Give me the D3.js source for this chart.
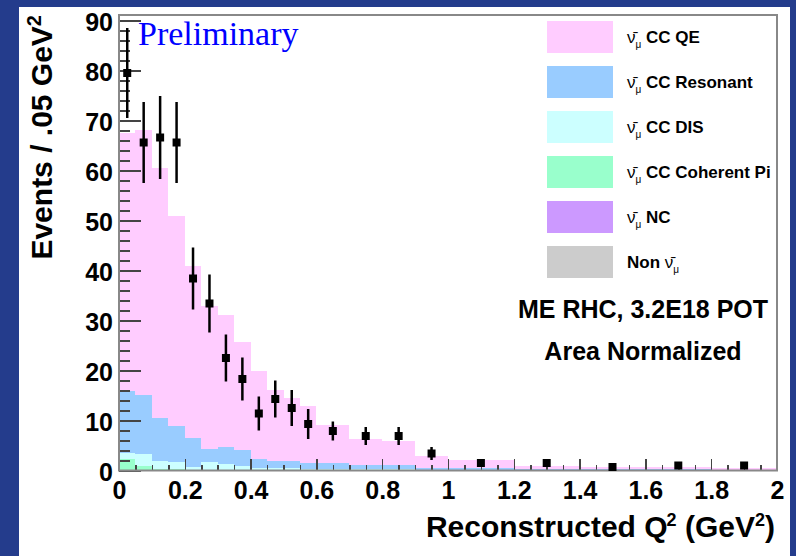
<!DOCTYPE html>
<meta charset="utf-8">
<style>
    body { margin: 0; background: #243c8c; }
    svg { display: block; }
    .tick text { font-family: "Liberation Sans", Arial, sans-serif; font-weight: bold; }
    .axis path { display: none; }
    .axis line { stroke: #444; stroke-width: 1.5; shape-rendering: crispEdges; }
</style>
<body>
<script src="https://cdn.jsdelivr.net/npm/d3@7"></script>
<script>
    // bin edges in Q^2 (GeV^2)
    var binEdges = [0, 0.05, 0.1, 0.15, 0.2, 0.25, 0.3, 0.35, 0.4, 0.45, 0.5, 0.55, 0.6,
                    0.7, 0.8, 0.9, 1.0, 1.2, 1.4, 1.6, 1.8, 2.0];
    // MC components, events / .05 GeV^2
    var qeVals  = [51.6, 52.9, 50.0, 42.1, 34.5, 28.5, 26.5, 21.6, 17.6, 14.2, 12.6, 11.4, 7.7,
                   5.1, 4.9, 2.5, 1.6, 0.65, 0.5, 0.45, 0.4];
    var resVals = [12.4, 11.8, 8.6, 7.2, 5.8, 2.7, 3.3, 3.2, 1.8, 1.5, 1.4, 1.1, 1.1,
                   0.8, 0.8, 0.3, 0.3, 0.2, 0.2, 0.15, 0.15];
    var disVals = [1.1, 2.4, 1.6, 1.4, 0.5, 1.5, 1.2, 0.8, 0.5, 0.4, 0.4, 0.3, 0.3,
                   0.35, 0.25, 0.2, 0.2, 0.15, 0.1, 0.1, 0.05];
    var cohVals = [2.25, 0.85, 0.2, 0.2, 0.1, 0.1, 0.1, 0.05, 0.05, 0.05, 0.05, 0.05, 0.05,
                   0, 0, 0, 0, 0, 0, 0, 0];
    var ncVals  = [0.1, 0.1, 0.1, 0.1, 0.1, 0.1, 0.1, 0.05, 0.05, 0.05, 0.05, 0.05, 0.05,
                   0.05, 0.05, 0, 0, 0, 0, 0, 0];
    var nonVals = [0.05, 0.05, 0, 0, 0, 0, 0, 0, 0, 0, 0, 0, 0,
                   0, 0, 0, 0, 0, 0, 0, 0];
    // data points: x, value, error
    var dataX   = [0.025, 0.075, 0.125, 0.175, 0.225, 0.275, 0.325, 0.375, 0.425, 0.475, 0.525,
                   0.575, 0.65, 0.75, 0.85, 0.95, 1.1, 1.3, 1.5, 1.7, 1.9];
    var dataY   = [79.5, 65.6, 66.6, 65.6, 38.4, 33.4, 22.5, 18.3, 11.4, 14.3, 12.5,
                   9.3, 7.9, 6.9, 6.9, 3.4, 1.5, 1.5, 0.7, 1.0, 1.0];
    var dataErr = [9.0, 8.1, 8.3, 8.1, 6.2, 5.8, 4.7, 4.3, 3.4, 3.7, 3.6,
                   3.0, 1.9, 1.8, 1.8, 1.3, 0.5, 0.5, 0.3, 0.4, 0.4];
    var legendLabels = ["CC QE", "CC Resonant", "CC DIS", "CC Coherent Pi", "NC", "Non"];
    var legendColors = ["#ffccff", "#99ccff", "#ccffff", "#99ffcc", "#cc99ff", "#cccccc"];
    var xTicks = [0, 0.2, 0.4, 0.6, 0.8, 1, 1.2, 1.4, 1.6, 1.8, 2];
    var yTicks = [0, 10, 20, 30, 40, 50, 60, 70, 80, 90];

    var W = 796, H = 556;
    var svg = d3.select("body").append("svg").attr("width", W).attr("height", H);
    // white pad
    svg.append("rect").attr("x", 19).attr("y", 7).attr("width", 771).attr("height", H - 7)
        .attr("fill", "#fff");

    var x = d3.scaleLinear().domain([0, 2]).range([119, 777]);
    var y = d3.scaleLinear().domain([0, 91.1]).range([470.5, 15]);

    // stacked histogram
    var keys = ["non", "nc", "coh", "dis", "res", "qe"];
    var colorOf = {qe: "#ffccff", res: "#99ccff", dis: "#ccffff", coh: "#99ffcc", nc: "#cc99ff", non: "#cccccc"};
    var rows = qeVals.map(function(v, i) {
        return {lo: binEdges[i], hi: binEdges[i + 1], qe: v, res: resVals[i], dis: disVals[i],
                coh: cohVals[i], nc: ncVals[i], non: nonVals[i]};
    });
    var series = d3.stack().keys(keys)(rows);
    var hist = svg.append("g");
    series.forEach(function(s) {
        hist.selectAll(null).data(s).enter().append("rect")
            .attr("x", d => x(d.data.lo))
            .attr("width", d => x(d.data.hi) - x(d.data.lo))
            .attr("y", d => y(d[1]))
            .attr("height", d => Math.max(0, y(d[0]) - y(d[1])))
            .attr("fill", colorOf[s.key])
            .attr("shape-rendering", "crispEdges");
    });

    // axes, ticks pointing inward
    var gx = svg.append("g").attr("class", "axis").attr("transform", "translate(0," + y(0) + ")");
    gx.call(d3.axisBottom(x).tickValues(d3.range(0, 2.001, 0.05)).tickSize(-6).tickFormat(""));
    var gx2 = svg.append("g").attr("class", "axis").attr("transform", "translate(0," + y(0) + ")");
    gx2.call(d3.axisBottom(x).tickValues(xTicks).tickSize(-12).tickPadding(11)
        .tickFormat(d => String(+d.toFixed(1))));
    gx2.selectAll("text").attr("font-size", 25).attr("fill", "#000");

    var gy = svg.append("g").attr("class", "axis").attr("transform", "translate(" + x(0) + ",0)");
    gy.call(d3.axisLeft(y).tickValues(d3.range(0, 91, 2)).tickSize(-11).tickFormat(""));
    var gy2 = svg.append("g").attr("class", "axis").attr("transform", "translate(" + x(0) + ",0)");
    gy2.call(d3.axisLeft(y).tickValues(yTicks).tickSize(-22).tickPadding(6));
    gy2.selectAll("text").attr("font-size", 25).attr("fill", "#000").attr("dy", "0.38em");

    // frame
    svg.append("rect").attr("x", x(0)).attr("y", y(91.1)).attr("width", x(2) - x(0))
        .attr("height", y(0) - y(91.1)).attr("fill", "none").attr("stroke", "#888").attr("stroke-width", 2);

    // data points
    var pts = svg.append("g");
    pts.selectAll("line").data(dataX).enter().append("line")
        .attr("x1", d => x(d)).attr("x2", d => x(d))
        .attr("y1", (d, i) => y(dataY[i] + dataErr[i]))
        .attr("y2", (d, i) => y(dataY[i] - dataErr[i]))
        .attr("stroke", "#000").attr("stroke-width", 2.5);
    pts.selectAll("rect").data(dataX).enter().append("rect")
        .attr("x", d => x(d) - 4).attr("y", (d, i) => y(dataY[i]) - 4)
        .attr("width", 8).attr("height", 8).attr("fill", "#000");

    // titles
    var font = "Liberation Sans, Arial, sans-serif";
    var yt = svg.append("text").attr("transform", "translate(52,15) rotate(-90)")
        .attr("text-anchor", "end").attr("font-family", font).attr("font-weight", "bold")
        .attr("font-size", 30);
    yt.append("tspan").text("Events / .05 GeV");
    yt.append("tspan").attr("dy", -11).attr("font-size", 20).text("2");

    var xt = svg.append("text").attr("x", 775).attr("y", 537)
        .attr("text-anchor", "end").attr("font-family", font).attr("font-weight", "bold")
        .attr("font-size", 30);
    xt.append("tspan").text("Reconstructed Q");
    xt.append("tspan").attr("dy", -11).attr("dx", -1).attr("font-size", 18).text("2");
    xt.append("tspan").attr("dy", 11).text(" (GeV");
    xt.append("tspan").attr("dy", -11).attr("font-size", 18).text("2");
    xt.append("tspan").attr("dy", 11).text(")");

    svg.append("text").attr("x", 138).attr("y", 45)
        .attr("font-family", "Liberation Serif, Times New Roman, serif").attr("font-size", 34)
        .attr("fill", "#0000ff").text("Preliminary");

    // legend
    var leg = svg.append("g");
    legendLabels.forEach(function(lab, i) {
        var ty = 21 + i * 45;
        leg.append("rect").attr("x", 547).attr("y", ty).attr("width", 66).attr("height", 32)
            .attr("fill", legendColors[i]);
        var t = leg.append("text").attr("x", 627).attr("y", ty + 22)
            .attr("font-family", font).attr("font-weight", "bold").attr("font-size", 17);
        if (lab === "Non") {
            t.append("tspan").text("Non ");
            t.append("tspan").attr("font-weight", "normal").text("\u03bd\u0304");
            t.append("tspan").attr("dy", 5).attr("font-size", 10).attr("font-weight", "normal").text("\u03bc");
        } else {
            t.append("tspan").attr("font-weight", "normal").text("\u03bd\u0304");
            t.append("tspan").attr("dy", 5).attr("font-size", 10).attr("font-weight", "normal").text("\u03bc");
            t.append("tspan").attr("dy", -5).text(" " + lab);
        }
    });

    svg.append("text").attr("x", 643).attr("y", 318).attr("text-anchor", "middle")
        .attr("font-family", font).attr("font-weight", "bold").attr("font-size", 25)
        .text("ME RHC, 3.2E18 POT");
    svg.append("text").attr("x", 643).attr("y", 360).attr("text-anchor", "middle")
        .attr("font-family", font).attr("font-weight", "bold").attr("font-size", 25)
        .text("Area Normalized");
</script>
</body>
